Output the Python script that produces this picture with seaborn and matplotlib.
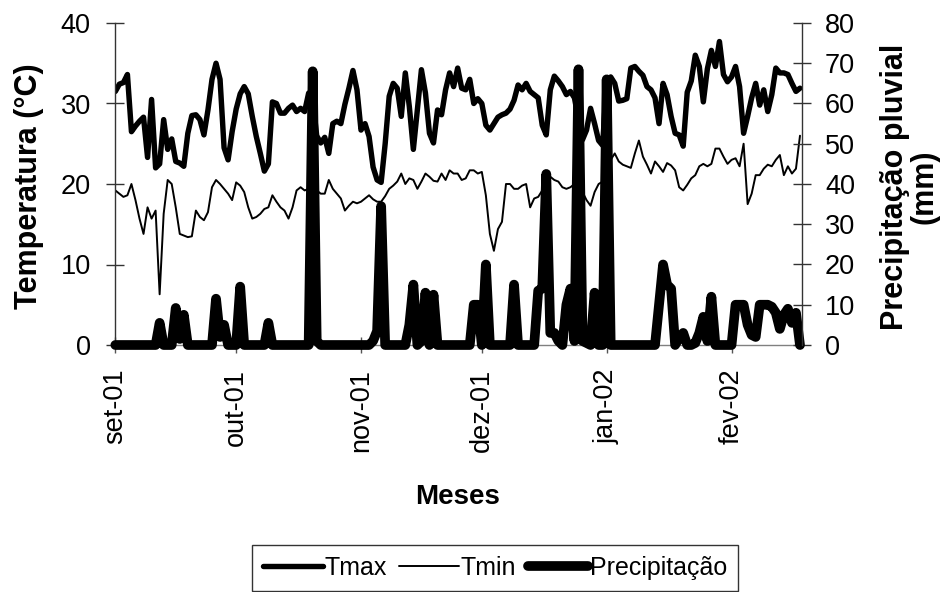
import matplotlib
matplotlib.use("Agg")
import numpy as np
import pandas as pd
import matplotlib.pyplot as plt
from matplotlib.lines import Line2D
import seaborn as sns

# ---------------------------------------------------------
# Daily data, 01/09/2001 .. 18/02/2002
# ---------------------------------------------------------
tmax = [
    31.5, 32.4, 32.6, 33.6, 26.5, 27.2, 27.8, 28.3, 23.3, 30.5,
    22.0, 22.5, 28.0, 24.3, 25.6, 22.8, 22.6, 22.2, 26.3, 28.5,
    28.6, 28.0, 26.1, 29.2, 33.0, 35.0, 33.0, 24.5, 23.0, 26.5,
    29.3, 31.2, 32.1, 31.2, 28.4, 25.9, 23.8, 21.6, 22.5, 30.2,
    30.0, 28.8, 28.8, 29.4, 29.8, 29.0, 29.4, 29.0, 31.3, 30.5,
    26.0, 25.1, 25.8, 23.8, 27.5, 27.8, 27.5, 29.9, 31.9, 34.1,
    31.7, 26.7, 27.5, 25.9, 22.1, 20.5, 20.2, 25.0, 30.9, 32.5,
    31.9, 28.4, 33.8, 29.6, 24.3, 29.2, 34.2, 31.3, 26.3, 25.1,
    29.2, 28.6, 31.7, 33.8, 32.1, 34.4, 31.9, 31.7, 33.0, 30.0,
    30.6, 30.0, 27.3, 26.7, 27.5, 28.3, 28.6, 28.8, 29.3, 30.4,
    32.3, 31.7, 32.5, 31.5, 31.1, 30.7, 27.3, 26.1, 31.7, 33.4,
    32.8, 32.1, 31.1, 31.5, 30.7, 28.0, 25.5, 26.7, 29.4, 27.5,
    25.4, 24.8, 32.9, 33.3, 32.5, 30.3, 30.4, 30.6, 34.4, 34.6,
    34.0, 33.5, 32.1, 31.7, 30.7, 27.5, 32.5, 31.1, 28.4, 26.3,
    26.1, 24.7, 31.4, 32.8, 36.0, 34.6, 30.2, 34.3, 36.6, 34.6,
    37.7, 33.6, 32.7, 33.3, 34.6, 32.1, 26.3, 28.4, 30.7, 32.5,
    29.8, 31.7, 29.0, 31.1, 34.4, 33.8, 33.8, 33.6, 32.5, 31.5,
    31.9,
]

tmin = [
    19.2, 18.8, 18.4, 18.6, 20.0, 18.0, 15.7, 13.8, 17.1, 15.7,
    16.7, 6.3, 16.3, 20.5, 20.0, 17.1, 13.8, 13.6, 13.4, 13.5,
    16.7, 15.9, 15.5, 16.5, 19.6, 20.5, 20.0, 19.4, 18.8, 18.0,
    20.2, 19.8, 19.0, 17.1, 15.7, 15.9, 16.3, 16.9, 17.1, 18.6,
    17.8, 17.1, 16.7, 15.7, 17.1, 19.2, 19.6, 19.2, 19.4, 19.0,
    19.2, 18.8, 18.8, 20.5, 19.4, 18.8, 18.2, 16.7, 17.3, 17.8,
    17.6, 17.8, 18.2, 18.6, 18.1, 17.8, 17.8, 18.5, 19.4, 19.8,
    20.3, 21.3, 20.0, 20.7, 20.5, 19.4, 20.3, 21.3, 20.9, 20.4,
    20.3, 21.3, 20.5, 21.7, 21.3, 21.3, 20.5, 20.7, 21.7, 21.7,
    21.3, 21.5, 18.6, 13.8, 11.7, 14.4, 15.3, 20.0, 20.0, 19.4,
    19.4, 19.8, 20.0, 17.1, 18.2, 18.4, 19.2, 20.0, 20.9, 20.5,
    20.3, 19.6, 19.4, 19.6, 20.0, 19.5, 19.0, 18.0, 17.3, 19.0,
    20.0, 20.3, 22.0, 23.0, 23.8, 22.8, 22.4, 22.2, 22.0, 23.8,
    25.4, 23.4, 22.4, 21.3, 22.8, 22.2, 21.5, 22.6, 22.3, 21.7,
    19.6, 19.2, 19.9, 20.7, 21.1, 22.2, 22.5, 22.2, 22.5, 24.4,
    24.4, 23.4, 22.5, 23.0, 23.2, 22.2, 25.0, 17.5, 18.8, 21.1,
    21.1, 21.9, 22.4, 22.2, 23.0, 23.6, 21.1, 22.2, 21.3, 21.9,
    26.0,
]

precip = [
    0, 0, 0, 0, 0, 0, 0, 0, 0, 0,
    0, 5.5, 0, 0, 0, 9.2, 1.5, 7.5, 0, 0,
    0, 0, 0, 0, 0, 11.5, 2, 5, 0, 0,
    0, 14.5, 0, 0, 0, 0, 0, 0, 5.5, 0,
    0, 0, 0, 0, 0, 0, 0, 0, 0, 68,
    1, 0, 0, 0, 0, 0, 0, 0, 0, 0,
    0, 0, 0, 0, 1, 3.5, 34.5, 0, 0, 0,
    0, 0, 0, 5, 15, 0, 1, 13, 0, 12.5,
    0, 0, 0, 0, 0, 0, 0, 0, 0, 10,
    10, 0, 20, 0, 0, 0, 0, 0, 0, 15,
    0, 0, 0, 0, 0, 13.5, 14, 42.5, 3, 3,
    1, 0, 10, 14, 1, 68.5, 1, 0.5, 0, 13,
    0, 0, 66, 0, 0, 0, 0, 0, 0, 0,
    0, 0, 0, 0, 0, 10, 20, 15, 14, 0,
    1.8, 3, 0, 0, 0.5, 3, 7, 1, 12, 0,
    0, 0, 0, 0, 10, 10, 10, 5, 2.5, 2,
    10, 10, 10, 9.5, 8, 4, 7.5, 9, 5.5, 8,
    0,
]

month_labels = ["set-01", "out-01", "nov-01", "dez-01", "jan-02", "fev-02"]
temp_ticks = [0, 10, 20, 30, 40]
prec_ticks = [0, 10, 20, 30, 40, 50, 60, 70, 80]

sns.set_theme(style="white")
plt.rcParams["font.family"] = ["Liberation Sans", "DejaVu Sans"]
plt.rcParams.update({"text.color": "black", "axes.labelcolor": "black",
                     "xtick.color": "black", "ytick.color": "black"})

dates = pd.date_range("2001-09-01", periods=len(tmax), freq="D")
month_ticks = pd.date_range("2001-09-01", periods=len(month_labels), freq="MS")
df = pd.DataFrame({"data": dates, "Tmax": tmax, "Tmin": tmin, "Precipitação": precip})

LW_MAX, LW_MIN, LW_PREC = 3.9, 1.4, 7.0

W, H = 943, 592
fig = plt.figure(figsize=(W / 100, H / 100), dpi=100)
ax = fig.add_axes([115 / W, 1 - 345 / H, (802 - 115) / W, (345 - 23) / H])

sns.lineplot(data=df, x="data", y="Tmin", ax=ax, color="black", lw=LW_MIN)
sns.lineplot(data=df, x="data", y="Tmax", ax=ax, color="black", lw=LW_MAX)

ax2 = ax.twinx()
sns.lineplot(data=df, x="data", y="Precipitação", ax=ax2, color="black",
             lw=LW_PREC, clip_on=False)

ax.set_xlim(dates[0] - pd.Timedelta(hours=2), dates[-1] + pd.Timedelta(hours=12))
ax.set_ylim(0, 40)
ax2.set_ylim(0, 80)
ax.set_yticks(temp_ticks)
ax2.set_yticks(prec_ticks)
ax.set_xticks(month_ticks)
ax.set_xticklabels(month_labels, rotation=90)

for a in (ax, ax2):
    a.set_xlabel("")
    a.set_ylabel("")
    a.spines["top"].set_visible(False)
ax.spines["right"].set_visible(False)
ax2.spines["left"].set_visible(False)
ax2.spines["bottom"].set_visible(False)
ax.spines["left"].set_color("#333333")
ax.spines["bottom"].set_color("#808080")
ax2.spines["right"].set_color("#333333")
for s in ("left", "bottom"):
    ax.spines[s].set_linewidth(1.0)
ax2.spines["right"].set_linewidth(1.0)

ax.tick_params(axis="y", left=True, direction="inout", length=13, width=1,
               color="#333333", pad=11, labelsize=19.5)
ax.tick_params(axis="x", bottom=True, direction="inout", length=12, width=1,
               color="#555555", pad=11, labelsize=19.5)
ax2.tick_params(axis="y", right=True, direction="inout", length=13, width=1,
                color="#333333", pad=10, labelsize=19.5)

fig.text(29 / W, 1 - 186 / H, "Temperatura (°C)", rotation=90, ha="center",
         va="center", fontsize=22, fontweight="bold")
fig.text(910 / W, 1 - 187 / H, "Precipitação pluvial\n(mm)", rotation=90,
         ha="center", va="center", fontsize=22, fontweight="bold", linespacing=0.98)
fig.text(458 / W, 1 - 497 / H, "Meses", ha="center", va="center",
         fontsize=20, fontweight="bold")

handles = [Line2D([], [], color="black", lw=LW_MAX),
           Line2D([], [], color="black", lw=LW_MIN),
           Line2D([], [], color="black", lw=LW_PREC)]
leg = fig.legend(handles, ["Tmax", "Tmin", "Precipitação"], loc="center",
                 bbox_to_anchor=(495 / W, 1 - 568 / H), ncol=3, fontsize=18,
                 frameon=True, fancybox=False, edgecolor="black",
                 handlelength=2.4, handletextpad=0.05, columnspacing=0.5,
                 borderpad=0.45, borderaxespad=0)
leg.get_frame().set_linewidth(1.0)

fig.savefig("out.png", dpi=100)
